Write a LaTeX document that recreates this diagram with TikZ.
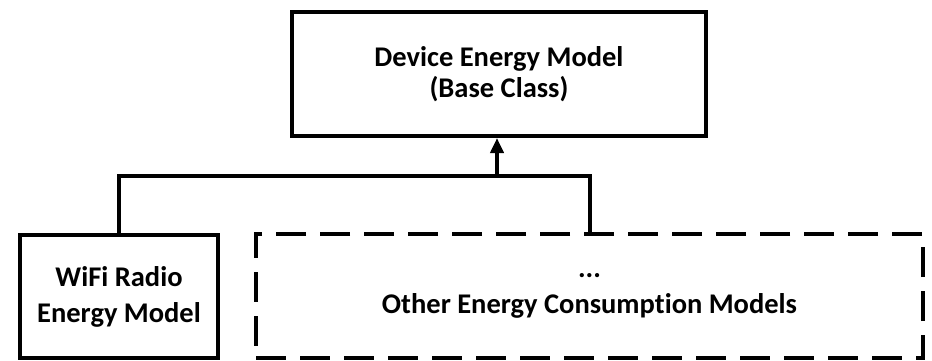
\documentclass[tikz,border=0pt]{standalone}
\usepackage{fontspec}
\setmainfont{Carlito}[Ligatures=NoCommon]
\usepackage{tikz}
\usetikzlibrary{arrows.meta}

\begin{document}
\begin{tikzpicture}[x=1pt,y=1pt,
    classbox/.style={draw,line width=4pt,align=center,inner sep=0pt,font=\fontsize{28.5}{31}\selectfont\bfseries},
    subbox/.style={classbox,font=\fontsize{28.5}{36}\selectfont\bfseries},
    openbox/.style={subbox,dash pattern=on 30pt off 14pt}]
        \useasboundingbox (0,0) rectangle (932,360);
        \node[classbox,minimum width=414pt,minimum height=124pt] (base) at (499,286) {Device Energy Model\\(Base Class)};
        \node[subbox,minimum width=198pt,minimum height=123pt] (wifi) at (119,63.5) {WiFi Radio\\Energy Model};
        \node[openbox,minimum width=667pt,minimum height=124pt] (others) at (589.5,64) {...\\Other Energy Consumption Models};
        \coordinate (bus) at (497,184);
        \draw[line width=4pt] (wifi.north) |- (bus) -| (others.north);
        \draw[line width=4pt,-{Triangle[length=15pt,width=13pt]}] (bus) -- (bus |- base.south);
    \end{tikzpicture}
\end{document}
